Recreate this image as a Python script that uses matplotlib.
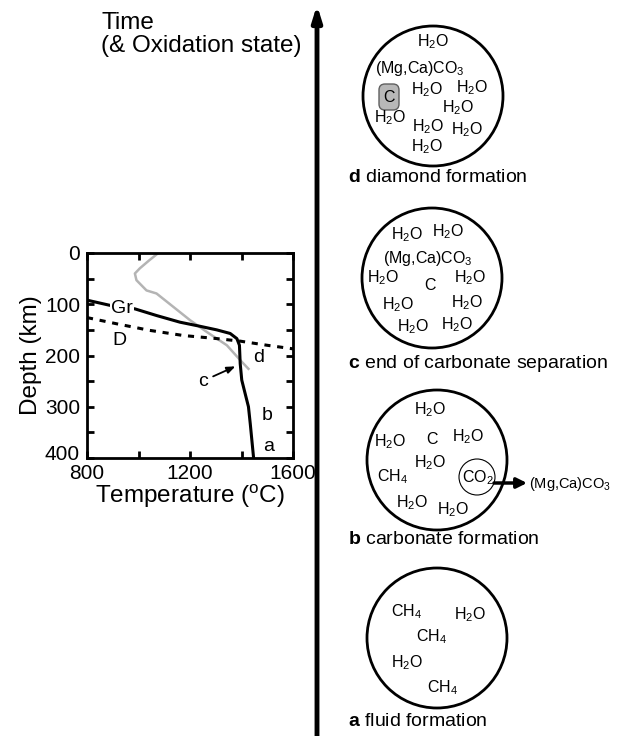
import numpy as np
import matplotlib.pyplot as plt
import matplotlib.transforms as mtransforms
from matplotlib.patches import Circle, FancyBboxPatch

plt.rcParams['font.family'] = ['Liberation Sans', 'DejaVu Sans']
plt.rcParams['mathtext.fontset'] = 'custom'
plt.rcParams['mathtext.rm'] = 'Liberation Sans'
plt.rcParams['mathtext.it'] = 'Liberation Sans:italic'
plt.rcParams['mathtext.bf'] = 'Liberation Sans:bold'

# geotherm (solid black), temperature (C) vs depth (km)
geo_T = [800, 888, 986, 1070, 1161, 1239, 1304, 1356, 1382, 1392, 1395, 1401, 1414, 1427, 1434, 1447]
geo_D = [92, 102, 109, 122, 135, 143, 150, 157, 167, 180, 216, 248, 274, 300, 333, 400]

# grey curve
grey_T = [1077, 1040, 1005, 986, 992, 1031, 1070, 1135, 1200, 1265, 1343, 1395, 1427]
grey_D = [0, 15, 30, 40, 53, 73, 79, 105, 131, 154, 180, 209, 226]

# graphite-diamond boundary (dashed)
gd_T = [800, 914, 1044, 1174, 1304, 1395, 1499, 1600]
gd_D = [126, 138, 151, 161, 167, 172, 180, 187]

# fluid contents of each stage
stage_d = ['H$_2$O', '(Mg,Ca)CO$_3$', 'H$_2$O', 'H$_2$O', 'H$_2$O', 'H$_2$O', 'H$_2$O', 'H$_2$O', 'H$_2$O']
stage_c = ['H$_2$O', 'H$_2$O', '(Mg,Ca)CO$_3$', 'H$_2$O', 'C', 'H$_2$O', 'H$_2$O', 'H$_2$O', 'H$_2$O', 'H$_2$O']
stage_b = ['H$_2$O', 'H$_2$O', 'C', 'H$_2$O', 'H$_2$O', 'CH$_4$', 'H$_2$O', 'H$_2$O']
stage_a = ['CH$_4$', 'H$_2$O', 'CH$_4$', 'H$_2$O', 'CH$_4$']

stage_names = [('a', 'fluid formation'), ('b', 'carbonate formation'),
               ('c', 'end of carbonate separation'), ('d', 'diamond formation')]

fig = plt.figure(figsize=(6.27, 7.36), dpi=100)

# overlay in pixel coordinates for the diagram part
ov = fig.add_axes([0, 0, 1, 1])
ov.set_xlim(0, 627)
ov.set_ylim(736, 0)
ov.axis('off')

# inset: temperature-depth plot
ax = fig.add_axes([87 / 627, 1 - 458 / 736, 206 / 627, 205 / 736])
ax.plot(grey_T, grey_D, color='#b4b4b4', lw=1.8, zorder=2)
ax.plot(gd_T, gd_D, color='black', lw=2.2, ls=(0, (2, 2.2)), zorder=3, clip_on=False)
ax.plot(geo_T, geo_D, color='black', lw=2.2, zorder=4)
ax.set_xlim(800, 1600)
ax.set_ylim(400, 0)
ax.set_xticks([800, 1000, 1200, 1400, 1600])
ax.set_xticklabels(['800', '', '1200', '', '1600'])
ax.set_yticks(np.arange(0, 401, 50))
ax.set_yticklabels(['0', '', '100', '', '200', '', '300', '', '400'])
ax.tick_params(direction='in', length=5, width=2, top=True, right=True, labelsize=15)
ax.tick_params(axis='x', pad=4.5)
ax.tick_params(axis='y', pad=5)
for sp in ax.spines.values():
    sp.set_linewidth(2)
# "400" sits just above "800" in the corner, as in the original
lab400 = ax.get_yticklabels()[-1]
lab400.set_transform(lab400.get_transform() +
                     mtransforms.ScaledTranslation(0, 4 / 72, fig.dpi_scale_trans))
ax.set_xlabel('Temperature ($^{\\rm o}$C)', fontsize=17.5, labelpad=0)
ax.set_ylabel('Depth (km)', fontsize=17.5, labelpad=2)

lab_fs = 14
ax.text(893, 109, 'Gr', fontsize=lab_fs, va='center', ha='left',
        bbox=dict(facecolor='white', edgecolor='none', pad=0.5), zorder=5)
ax.text(898, 171, 'D', fontsize=lab_fs, va='center', ha='left')
ax.text(1445, 203, 'd', fontsize=lab_fs, va='center', ha='left')
ax.text(1250, 250, 'c', fontsize=lab_fs, va='center', ha='center')
ax.annotate('', xy=(1386, 219), xytext=(1280, 243),
            arrowprops=dict(arrowstyle='-|>,head_length=0.5,head_width=0.2', lw=1.3, color='black'))
ax.text(1477, 318, 'b', fontsize=lab_fs, va='center', ha='left')
ax.text(1484, 378, 'a', fontsize=lab_fs, va='center', ha='left')

# time axis
ov.annotate('', xy=(317, 5), xytext=(317, 738),
            arrowprops=dict(arrowstyle='-|>,head_length=0.9,head_width=0.28', lw=3.5,
                            color='black', shrinkA=0, shrinkB=0))
ov.text(101, 12, 'Time\n(& Oxidation state)', fontsize=17.5, ha='left', va='top',
        linespacing=1.05)

# stage circles
circle_centres = [(437, 638), (437, 460), (432, 278), (433, 96)]
for (cx, cy) in circle_centres:
    ov.add_patch(Circle((cx, cy), 70, facecolor='none', edgecolor='black', lw=2))

label_y = [722, 540, 364, 178]
for (letter, name), ly in zip(stage_names, label_y):
    ov.text(348, ly, '$\\mathbf{%s}$ %s' % (letter, name), fontsize=14, ha='left', va='center')

sp_fs = 11.5
pos_d = [(433, 42), (420, 68), (427, 90), (472, 88), (458, 108), (390, 118), (428, 127), (467, 130), (427, 147)]
for s, (x, y) in zip(stage_d, pos_d):
    ov.text(x, y, s, fontsize=sp_fs, ha='center', va='center')
ov.add_patch(FancyBboxPatch((381, 86), 16, 22, boxstyle='round,pad=2,rounding_size=6',
                            facecolor='#b8b8b8', edgecolor='#606060', lw=1))
ov.text(389, 97, 'C', fontsize=sp_fs, ha='center', va='center')

pos_c = [(407, 235), (448, 232), (428, 258), (383, 278), (430, 285), (470, 278),
         (398, 305), (467, 303), (413, 327), (457, 325)]
for s, (x, y) in zip(stage_c, pos_c):
    ov.text(x, y, s, fontsize=sp_fs, ha='center', va='center')

pos_b = [(430, 410), (390, 442), (432, 440), (468, 437), (430, 463), (393, 477), (412, 503), (453, 510)]
for s, (x, y) in zip(stage_b, pos_b):
    ov.text(x, y, s, fontsize=sp_fs, ha='center', va='center')
ov.add_patch(Circle((477, 477), 18, facecolor='none', edgecolor='black', lw=0.8))
ov.text(478, 478, 'CO$_2$', fontsize=sp_fs, ha='center', va='center')
ov.annotate('', xy=(527, 483), xytext=(494, 483),
            arrowprops=dict(arrowstyle='-|>,head_length=0.6,head_width=0.3', lw=2.5, color='black',
                            shrinkA=0, shrinkB=0))
ov.text(529, 484, '(Mg,Ca)CO$_3$', fontsize=10.5, ha='left', va='center')

pos_a = [(407, 612), (470, 615), (432, 637), (407, 663), (443, 688)]
for s, (x, y) in zip(stage_a, pos_a):
    ov.text(x, y, s, fontsize=sp_fs, ha='center', va='center')

fig.savefig('out.png', dpi=100)
